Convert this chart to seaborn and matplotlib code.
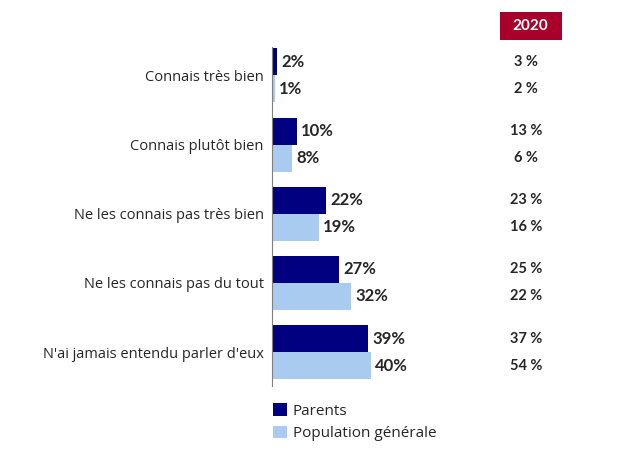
import matplotlib
matplotlib.use("Agg")
import matplotlib.pyplot as plt
from matplotlib.patches import Rectangle
import seaborn as sns
import pandas as pd

# data
categories = ["Connais très bien", "Connais plutôt bien", "Ne les connais pas très bien",
              "Ne les connais pas du tout", "N'ai jamais entendu parler d'eux"]
parents = [2, 10, 22, 27, 39]
population = [1, 8, 19, 32, 40]
series = ["Parents", "Population générale"]
prev_parents = ["3 %", "13 %", "23 %", "25 %", "37 %"]
prev_population = ["2 %", "6 %", "16 %", "22 %", "54 %"]
year_label = "2020"

df = pd.DataFrame({
    "cat": categories * 2,
    "val": parents + population,
    "serie": [series[0]] * 5 + [series[1]] * 5,
})

sns.set_style("white")
plt.rcParams["font.family"] = ["Open Sans", "DejaVu Sans"]
bold_font = ["Lato", "DejaVu Sans"]

fig = plt.figure(figsize=(6.24, 4.68), dpi=100)
ax = fig.add_axes([0.436, 0.175, 0.515, 0.7246])

sns.barplot(data=df, y="cat", x="val", hue="serie", order=categories,
            palette=["#000080", "#A9CBF0"], width=0.78, dodge=True, ax=ax,
            saturation=1, linewidth=0, legend=True)

ax.set_xlim(0, 130)
ax.set_ylim(4.49, -0.41)
ax.set_xlabel("")
ax.set_ylabel("")
ax.set_xticks([])
ax.tick_params(axis="y", length=0, labelsize=10.5, pad=6)
for s in ["top", "right", "bottom"]:
    ax.spines[s].set_visible(False)
ax.spines["left"].set_color("#808080")

for cont in ax.containers:
    ax.bar_label(cont, labels=[f"{v:.0f}%" for v in cont.datavalues],
                 padding=3, fontsize=12, fontweight="bold", family=bold_font)

# 2020 column
trans = ax.get_yaxis_transform()
for i in range(len(categories)):
    ax.text(0.79, i - 0.195, prev_parents[i], transform=trans, ha="center",
            va="center", fontsize=10.5, fontweight="bold", family=bold_font)
    ax.text(0.79, i + 0.195, prev_population[i], transform=trans, ha="center",
            va="center", fontsize=10.5, fontweight="bold", family=bold_font)

fig.patches.append(Rectangle((0.801, 0.9145), 0.099, 0.0598, transform=fig.transFigure,
                             facecolor="#A8002A", edgecolor="none"))
fig.text(0.8505, 0.9444, year_label, ha="center", va="center", color="white",
         fontsize=11, fontweight="bold", family=bold_font)

ax.legend(loc="upper left", bbox_to_anchor=(-0.04, -0.01), frameon=False,
          fontsize=11, handlelength=0.9, handleheight=0.9, handletextpad=0.4,
          labelspacing=0.45)

fig.savefig("out.png", dpi=100)
